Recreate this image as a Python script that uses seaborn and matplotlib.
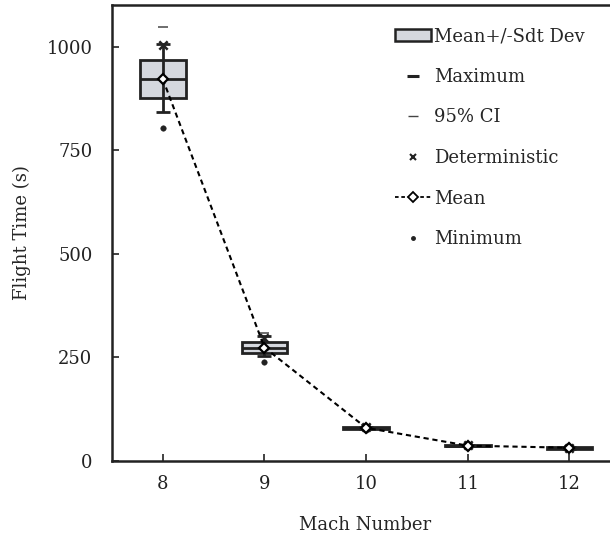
import numpy as np
import pandas as pd
import matplotlib
matplotlib.use("Agg")
import matplotlib.pyplot as plt
import seaborn as sns
from matplotlib.patches import Patch
from matplotlib.lines import Line2D

# Flight time statistics per Mach number
mach = [8, 9, 10, 11, 12]
mean_time = [922, 274, 80, 37, 32]
std_time = [46, 13, 3, 2, 2]
ci_low = [842, 254, 77, 35, 30]
ci_high = [1007, 302, 83, 39, 34]
max_time = [1048, 308, 86, 40, 35]
min_time = [804, 240, 75, 34, 29]
deterministic = [1005, 296, 81, 38, 32]
y_ticks = [0, 250, 500, 750, 1000]

sns.set_theme(style="white")
plt.rcParams["font.family"] = ["DejaVu Serif"]
FS = 13

df = pd.DataFrame({
    "mach": mach, "mean": mean_time, "std": std_time,
    "lo": ci_low, "hi": ci_high, "max": max_time, "min": min_time,
    "det": deterministic,
})

fig = plt.figure(figsize=(6.1, 5.46), dpi=100)
ax = fig.add_axes([0.1836, 0.1557, 0.83, 0.8351])

dark = "#222222"
box_face = "#d5d8de"
box_w = 0.45

# mean +/- standard deviation boxes
ax.bar(df["mach"], 2 * df["std"], bottom=df["mean"] - df["std"], width=box_w,
       color=box_face, edgecolor=dark, linewidth=2, zorder=2)
ax.hlines(df["mean"], df["mach"] - box_w / 2, df["mach"] + box_w / 2,
          color=dark, linewidth=2, zorder=3)

# 95% confidence interval whiskers
ax.errorbar(df["mach"], df["mean"],
            yerr=[df["mean"] - df["lo"], df["hi"] - df["mean"]],
            fmt="none", ecolor=dark, elinewidth=2, capsize=5, capthick=2,
            zorder=3)

# extremes and deterministic result
sns.scatterplot(data=df, x="mach", y="max", marker="_", s=60, color="#555555",
                linewidth=1.2, ax=ax, zorder=4, legend=False)
sns.scatterplot(data=df, x="mach", y="min", marker="o", s=16, color=dark,
                edgecolor=dark, ax=ax, zorder=4, legend=False)
sns.scatterplot(data=df, x="mach", y="det", marker="x", s=36, color=dark,
                linewidth=1.8, ax=ax, zorder=5, legend=False)

# mean trend
sns.lineplot(data=df, x="mach", y="mean", ax=ax, color="black",
             linestyle=(0, (2.5, 1.8)), linewidth=1.5, marker="D",
             markersize=5, markerfacecolor="white", markeredgecolor="black",
             markeredgewidth=1.6, zorder=6)

ax.set_xlim(7.5, 12.48)
ax.set_ylim(0, 1101)
ax.set_xticks(mach)
ax.set_yticks(y_ticks)
ax.set_xlabel("Mach Number", fontsize=FS, labelpad=17)
ax.set_ylabel("Flight Time (s)", fontsize=FS, labelpad=11)
ax.tick_params(axis="both", direction="in", length=5, width=1.2,
               color=dark, labelsize=FS, labelcolor="#222222",
               bottom=True, left=True)
ax.tick_params(axis="y", pad=14)
ax.tick_params(axis="x", pad=10)
for side in ["left", "bottom", "top"]:
    ax.spines[side].set_color(dark)
    ax.spines[side].set_linewidth(1.8)
ax.spines["right"].set_visible(False)

handles = [
    Patch(facecolor=box_face, edgecolor=dark, linewidth=1.8),
    Line2D([], [], linestyle="none", marker="_", markersize=8,
           markeredgewidth=2.2, color=dark),
    Line2D([], [], linestyle="none", marker="_", markersize=7,
           markeredgewidth=1.0, color="#444444"),
    Line2D([], [], linestyle="none", marker="x", markersize=5,
           markeredgewidth=1.5, color=dark),
    Line2D([], [], color="black", linestyle=(0, (2, 1.5)), linewidth=1.3,
           marker="D", markersize=5, markerfacecolor="white",
           markeredgecolor="black", markeredgewidth=1.3),
    Line2D([], [], linestyle="none", marker="o", markersize=2.5, color=dark),
]
labels = ["Mean+/-Sdt Dev", "Maximum", "95% CI", "Deterministic", "Mean",
          "Minimum"]
ax.legend(handles, labels, loc="upper right", bbox_to_anchor=(0.955, 0.975),
          frameon=False, fontsize=FS, handlelength=2.0, handletextpad=0.15,
          labelspacing=1.25, borderaxespad=0.2)

fig.savefig("out.png", dpi=100)
